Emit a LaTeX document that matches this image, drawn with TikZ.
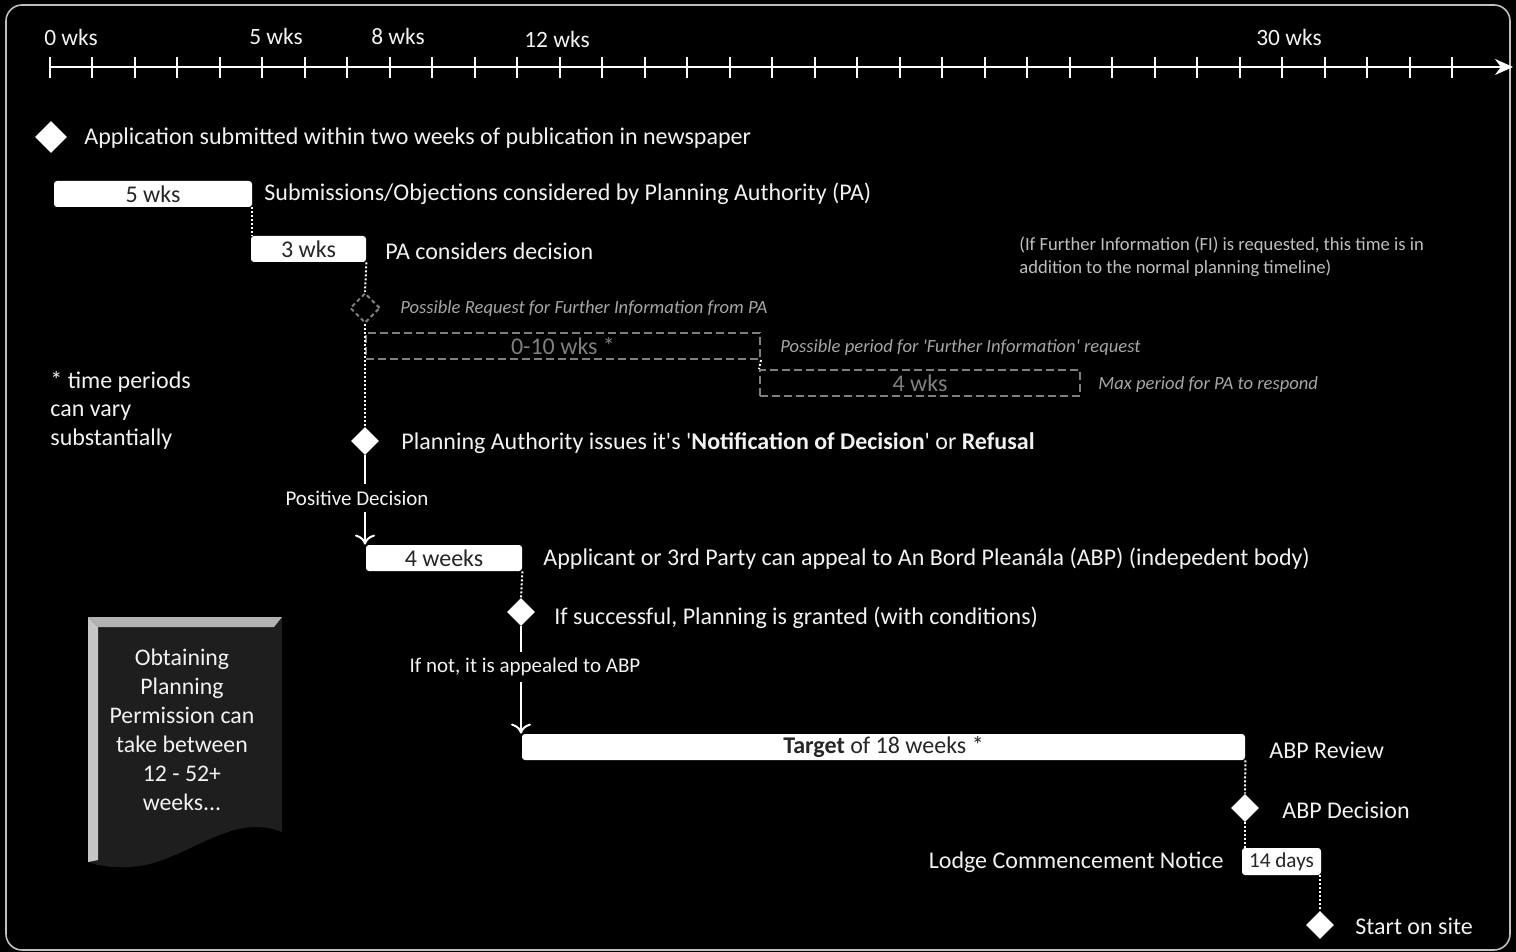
\documentclass[tikz,border=0pt]{standalone}
\usepackage{fontspec}
\setmainfont{Carlito}
\usetikzlibrary{arrows.meta,shapes.geometric}
\definecolor{txt}{HTML}{F2F2F2}
\definecolor{fitxt}{HTML}{BFBFBF}
\definecolor{dimtxt}{HTML}{A6A6A6}
\definecolor{dashgray}{HTML}{7F7F7F}
\definecolor{boxfill}{HTML}{1E1E1E}
\newcommand{\sq}{\textquotesingle}
\tikzset{
	wkbar/.style={rectangle, rounded corners=1.5pt, fill=white, text=black!85, minimum height=13pt, inner sep=0pt, font=\fontsize{12}{14}\selectfont},
	fibar/.style={rectangle, draw=dashgray, dash pattern=on 4pt off 2pt, line width=1pt, text=dashgray, minimum height=13pt, inner sep=0pt, font=\fontsize{12}{14}\selectfont},
	mstone/.style={diamond, fill=white, inner sep=0pt, minimum size=14pt},
	fistone/.style={diamond, draw=dashgray, dash pattern=on 2pt off 1.5pt, line width=1pt, inner sep=0pt, minimum size=15pt},
	lbl/.style={anchor=west, text=txt, inner sep=0pt, font=\fontsize{12}{14}\selectfont},
	note/.style={anchor=west, text=dimtxt, inner sep=0pt, font=\fontsize{9.3}{11}\selectfont\itshape},
	steplbl/.style={text=txt, inner sep=3pt, font=\fontsize{10.5}{12}\selectfont},
	axlbl/.style={text=txt, inner sep=0pt, font=\fontsize{11.7}{14}\selectfont},
	link/.style={white, dash pattern=on 1pt off 1pt, line width=1pt},
	flow/.style={white, line width=1pt, -{To[length=5pt,width=10pt]}},
}

\begin{document}
\begin{tikzpicture}[x=0.5pt, y=-0.5pt] % {{{
\useasboundingbox (0,0) rectangle (1516,952);
\fill[black] (0,0) rectangle (1516,952);
\draw[gray!50, line width=0.8pt, rounded corners=8pt] (6,5) rectangle (1510,950);

% axis {{{
\pgfmathsetmacro{\wkstep}{42.5}
\draw[white, line width=1pt, -{Stealth[length=9pt,width=8pt]}] (49,67) -- (1513,67);
\foreach \i in {0,...,33} {
	\draw[white, line width=1pt] (49.7+\wkstep*\i,57) -- ++(0,21);
}
\node[axlbl] (w0) at (71,37) {0 wks};
\node[axlbl] (w5) at (276,36) {5 wks};
\node[axlbl] (w8) at (398,36) {8 wks};
\node[axlbl] (w12) at (557,39) {12 wks};
\node[axlbl] (w30) at (1289,37) {30 wks};
% }}}

% planning authority {{{
\node[mstone, minimum size=16pt] (dappl) at (51,137) {};
\node[lbl] (appl) at (84,138) {Application submitted within two weeks of publication in newspaper};

\node[wkbar, minimum width=99pt] (b5) at (153,194) {5 wks};
\node[lbl] (subm) at (264,194) {Submissions/Objections considered by Planning Authority (PA)};
\node[wkbar, minimum width=57.5pt] (b3) at (308.5,249) {3 wks};
\node[lbl] (pacons) at (385,251) {PA considers decision};
\draw[link] (b5.south east) -- (b5.south east |- b3.north);

\node[lbl, text=fitxt, font=\fontsize{9.3}{11.5}\selectfont, align=left] (finote) at (1019,257) {(If Further Information (FI) is requested, this time is in\\addition to the normal planning timeline)};
% }}}

% further information {{{
\node[fistone] (dfi) at (365,308) {};
\node[note] (fireq) at (400,309) {Possible Request for Further Information from PA};
\node[fibar, minimum width=197pt] (fi10) at (563,346) {0-10 wks *};
\node[note] (fiper) at (780,348) {Possible period for \sq Further Information\sq\ request};
\node[fibar, minimum width=160pt] (fi4) at (920,383) {4 wks};
\node[note] (fimax) at (1098,385) {Max period for PA to respond};
\draw[link] (fi10.south east) -- (fi4.north west);

\node[lbl, align=left, font=\fontsize{12}{14.25}\selectfont] (vary) at (50,410) {* time periods\\can vary\\substantially};
% }}}

% decision and appeal {{{
\node[mstone] (dpa) at (365,441) {};
\node[lbl] (padec) at (401,443) {Planning Authority issues it\sq s \sq\textbf{Notification of Decision}\sq\ or \textbf{Refusal}};
\draw[link] (b3.south east) -- (dfi.north);
\draw[link] (dfi.south) -- (dpa.north);

\node[steplbl] (posdec) at (357,498) {Positive Decision};
\draw[white, line width=1pt] (dpa.south) -- (dpa |- posdec.north);
\node[wkbar, minimum width=78pt] (b4) at (444,558) {4 weeks};
\draw[flow] (dpa |- posdec.south) -- (dpa |- b4.north);
\node[lbl] (appeal) at (543,559) {Applicant or 3rd Party can appeal to An Bord Pleanála (ABP) (indepedent body)};

\node[mstone] (dsucc) at (521,612) {};
\node[lbl] (succ) at (554,618) {If successful, Planning is granted (with conditions)};
\draw[link] (b4.south east) -- (dsucc.north);
\node[steplbl] (notsucc) at (525,667) {If not, it is appealed to ABP};
\draw[white, line width=1pt] (dsucc.south) -- (dsucc |- notsucc.north);
% }}}

% ABP review {{{
\node[wkbar, minimum width=361.5pt] (target) at (883.5,747) {\textbf{Target} of 18 weeks *};
\draw[flow] (dsucc |- notsucc.south) -- (dsucc |- target.north);
\node[lbl] (review) at (1269,750) {ABP Review};

\node[mstone] (dabp) at (1245,808) {};
\node[lbl] (abpdec) at (1282,810) {ABP Decision};
\draw[link] (target.south east) -- (dabp.north);

\node[wkbar, minimum width=39.5pt, minimum height=13.5pt, font=\fontsize{10.6}{12}\selectfont] (b14) at (1281.5,861.5) {14 days};
\node[lbl, anchor=east] (lodge) at (1224,862) {Lodge Commencement Notice};
\draw[link] (dabp.south) -- (dabp.south |- b14.north);

\node[mstone] (dstart) at (1320,925) {};
\node[lbl] (start) at (1355,926) {Start on site};
\draw[link] (dstart.north |- b14.south) -- (dstart.north);
% }}}

% summary box {{{
\fill[boxfill] (88,617) -- (282,617) -- (282,832) .. controls (232,812) and (190,858) .. (140,866) .. controls (115,869) and (100,866) .. (88,862) -- cycle;
\fill[gray!60] (88,617) -- (282,617) -- (274,627) -- (98,627) -- cycle;
\fill[gray!45] (88,617) -- (98,627) -- (98,860) -- (88,862) -- cycle;
\node[text=txt, align=center, font=\fontsize{11.9}{14.5}\selectfont] (permit) at (182,730) {Obtaining\\Planning\\Permission can\\take between\\12 - 52+\\weeks...};
% }}}
\end{tikzpicture} % }}}
\end{document}
